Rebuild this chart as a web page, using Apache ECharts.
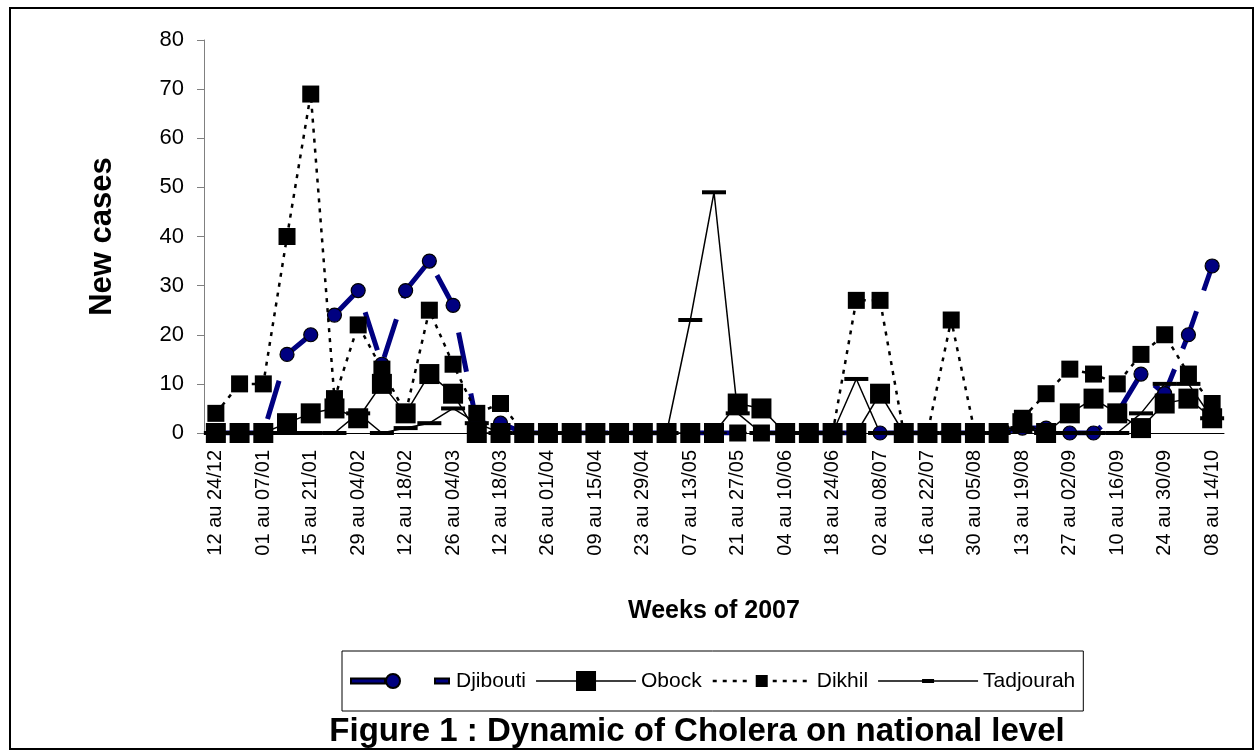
<!DOCTYPE html>
<html>
<head>
<meta charset="utf-8">
<script src="https://cdn.jsdelivr.net/npm/echarts@6/dist/echarts.min.js"></script>
<style>
  html, body { margin: 0; padding: 0; background: #fff; }
  #chart { width: 1258px; height: 751px; }
</style>
</head>
<body>
<div id="chart"></div>
<script>
// weekly categories (labels shown every other week)
const weeks = [
  '12 au 24/12', '25 au 31/12', '01 au 07/01', '08 au 14/01', '15 au 21/01', '22 au 28/01',
  '29 au 04/02', '05 au 11/02', '12 au 18/02', '19 au 25/02', '26 au 04/03', '05 au 11/03',
  '12 au 18/03', '19 au 25/03', '26 au 01/04', '02 au 08/04', '09 au 15/04', '16 au 22/04',
  '23 au 29/04', '30 au 06/05', '07 au 13/05', '14 au 20/05', '21 au 27/05', '28 au 03/06',
  '04 au 10/06', '11 au 17/06', '18 au 24/06', '25 au 01/07', '02 au 08/07', '09 au 15/07',
  '16 au 22/07', '23 au 29/07', '30 au 05/08', '06 au 12/08', '13 au 19/08', '20 au 26/08',
  '27 au 02/09', '03 au 09/09', '10 au 16/09', '17 au 23/09', '24 au 30/09', '01 au 07/10',
  '08 au 14/10'
]

const djibouti = [0, 0, 0, 16, 20, 24, 29, 14, 29, 35, 26, 2, 2,
  0, 0, 0, 0, 0, 0, 0, 0, 0, 0, 0, 0, 0, 0, 0, 0, 0, 0, 0, 0, 0,
  1, 1, 0, 0, 4, 12, 8, 20, 34]

const obock = [0, 0, 0, 2, 4, 5, 3, 10, 4, 12, 8, 0, 0,
  0, 0, 0, 0, 0, 0, 0, 0, 0,
  6, 5, 0, 0, 0, 0, 8, 0, 0, 0, 0, 0,
  2, 0, 4, 7, 4, 1, 6, 7, 3]

const dikhil = [4, 10, 10, 40, 69, 7, 22, 13, 4, 25, 14, 4, 6,
  0, 0, 0, 0, 0, 0, 0, 0, 0, 0, 0, 0, 0, 0,
  27, 27, 0, 0, 23, 0, 0,
  3, 8, 13, 12, 10, 16, 20, 12, 6]

const tadjourah = [0, 0, 0, 0, 0, 0, 4, 0, 1, 2, 5, 2, 0,
  0, 0, 0, 0, 0, 0, 0,
  23, 49, 4, 0, 0, 0, 0, 11, 0, 0, 0, 0, 0, 0,
  1, 0, 0, 0, 0, 4, 10, 10, 3]

const yMin = 0
const yMax = 80
const yStep = 10

const font = "'Liberation Sans', Arial, sans-serif"

// legend icons, drawn in a 100x20 box (the two moves pin the box)
const box = 'M0 0 M100 20 '
function dots(x0, x1) {
  let s = ''
  for (let x = x0; x < x1; x += 10) s += 'M' + x + ' 8.8 h4 v2.4 h-4 Z '
  return s
}
const iconDjibouti = 'path://' + box +
  'M0 7.5 H34 V12.5 H0 Z M35 10 A7 7 0 1 1 49 10 A7 7 0 1 1 35 10 Z M84 7.5 H98 V12.5 H84 Z'
const iconObock = 'path://' + box +
  'M0 9.2 H40 V0 H60 V9.2 H100 V10.8 H60 V20 H40 V10.8 H0 Z'
const iconDikhil = 'path://' + box + dots(1, 40) + 'M44 4 H56 V16 H44 Z ' + dots(61, 100)
const iconTadjourah = 'path://' + box +
  'M0 9.2 H44 V8 H56 V9.2 H100 V10.8 H56 V12 H44 V10.8 H0 Z'

const chart = echarts.init(document.getElementById('chart'))

const option = {
  animation: false,
  textStyle: { fontFamily: font, color: '#000' },
  title: {
    text: 'Figure 1 : Dynamic of Cholera on national level',
    left: 692,
    top: 710,
    textAlign: 'center',
    textStyle: { fontFamily: font, fontSize: 33, fontWeight: 'bold', color: '#000' }
  },
  legend: {
    left: 342,
    top: 651,
    itemWidth: 100,
    itemHeight: 20,
    itemGap: 10,
    padding: [19, 8],
    borderColor: '#000',
    borderWidth: 1,
    symbolKeepAspect: false,
    textStyle: { fontFamily: font, fontSize: 21, color: '#000' },
    data: [
      { name: 'Djibouti', icon: iconDjibouti },
      { name: 'Obock', icon: iconObock },
      { name: 'Dikhil', icon: iconDikhil },
      { name: 'Tadjourah', icon: iconTadjourah }
    ]
  },
  graphic: [{
    type: 'rect',
    silent: true,
    shape: { x: 10, y: 8, width: 1243, height: 741 },
    style: { fill: 'none', stroke: '#000', lineWidth: 2 }
  }],
  grid: {
    left: 204,
    right: 34,
    top: 40,
    bottom: 318,
    outerBoundsMode: 'none'
  },
  xAxis: {
    type: 'category',
    data: weeks,
    boundaryGap: true,
    name: 'Weeks of 2007',
    nameLocation: 'middle',
    nameGap: 166,
    nameTextStyle: { fontFamily: font, fontSize: 25, fontWeight: 'bold', color: '#000' },
    axisLine: { lineStyle: { color: '#000', width: 1 } },
    axisTick: { interval: 0, length: 6, lineStyle: { color: '#000' } },
    axisLabel: {
      interval: 1,
      rotate: 90,
      margin: 17,
      fontSize: 20,
      color: '#000',
      fontFamily: font
    },
    splitLine: { show: false }
  },
  yAxis: {
    type: 'value',
    min: yMin,
    max: yMax,
    interval: yStep,
    name: 'New cases',
    nameLocation: 'middle',
    nameGap: 86,
    nameRotate: 90,
    nameTextStyle: { fontFamily: font, fontSize: 31, fontWeight: 'bold', color: '#000' },
    axisLine: { show: true, lineStyle: { color: '#808080', width: 1 } },
    axisTick: { show: true, length: 7, lineStyle: { color: '#808080' } },
    axisLabel: { margin: 20, fontSize: 22, color: '#000', fontFamily: font },
    splitLine: { show: false }
  },
  series: [
    {
      name: 'Djibouti',
      type: 'line',
      data: djibouti,
      showAllSymbol: true,
      symbol: 'circle',
      symbolSize: 14,
      lineStyle: { color: '#000080', width: 5, type: [40, 22] },
      itemStyle: { color: '#000080', borderColor: '#000', borderWidth: 1.2 }
    },
    {
      name: 'Obock',
      type: 'line',
      data: obock,
      showAllSymbol: true,
      symbol: 'rect',
      symbolSize: 20,
      lineStyle: { color: '#000', width: 1.5 },
      itemStyle: { color: '#000' }
    },
    {
      name: 'Dikhil',
      type: 'line',
      data: dikhil,
      showAllSymbol: true,
      symbol: 'rect',
      symbolSize: 17,
      lineStyle: { color: '#000', width: 2.5, type: [4, 6] },
      itemStyle: { color: '#000' }
    },
    {
      name: 'Tadjourah',
      type: 'line',
      data: tadjourah,
      showAllSymbol: true,
      symbol: 'rect',
      symbolSize: [24, 4],
      lineStyle: { color: '#000', width: 1.5 },
      itemStyle: { color: '#000' }
    }
  ]
}

chart.setOption(option)
window.addEventListener('resize', () => chart.resize())
</script>
</body>
</html>
